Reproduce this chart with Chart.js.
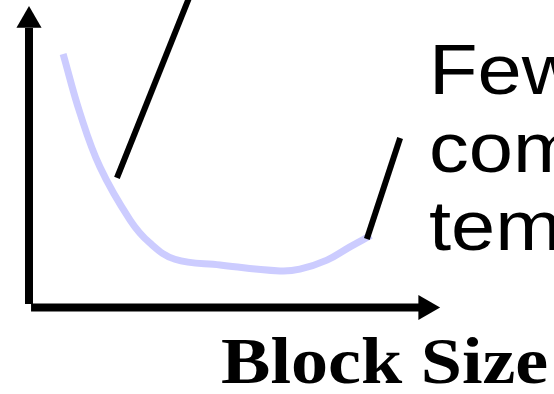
<!DOCTYPE html>
<html>
<head>
<meta charset="utf-8">
<script src="https://cdn.jsdelivr.net/npm/chart.js@4/dist/chart.umd.min.js"></script>
<style>
  html, body { margin: 0; padding: 0; background: #fff; }
  canvas { display: block; }
</style>
</head>
<body>
<canvas id="blockSizeChart" width="554" height="394"></canvas>
<script>
// values in sketch units: origin at the axes corner, arrows at 10
var curveX = [0.83, 1.24, 1.73, 2.46, 2.94, 3.55, 4.65, 6.11, 6.59, 7.25, 7.81, 8.32];
var curveY = [8.41, 6.45, 4.65, 2.90, 2.14, 1.60, 1.41, 1.21, 1.27, 1.57, 2.01, 2.39];

var leftLeaderX = [2.14, 3.97];
var leftLeaderY = [4.30, 10.53];
var rightLeaderX = [8.22, 9.03];
var rightLeaderY = [2.27, 5.62];

var yAxisX = [0, 0];
var yAxisY = [0.12, 9.27];
var xAxisX = [0.05, 9.5];
var xAxisY = [0, 0];
var yArrowTip = { x: 0, y: 9.52 };
var xArrowTip = { x: 9.65, y: 0 };

var calloutLines = ['Fewer blocks:', 'compromises', 'temporal locality'];
var xTitle = 'Block Size';

function pts(xs, ys) {
  return xs.map(function (x, i) { return { x: x, y: ys[i] }; });
}

function lineSet(xs, ys, color, width, tension) {
  return {
    type: 'line',
    data: pts(xs, ys),
    borderColor: color,
    borderWidth: width,
    borderCapStyle: 'butt',
    pointRadius: 0,
    tension: tension || 0,
    fill: false,
    clip: 20
  };
}

var chart_blockSize = new Chart(document.getElementById('blockSizeChart'), {
    type: 'scatter',
    data: {
        datasets: [
            lineSet(yAxisX, yAxisY, '#000', 8),
            lineSet(xAxisX, xAxisY, '#000', 8),
            {
                data: [yArrowTip],
                pointStyle: 'triangle',
                pointRadius: 14.5,
                rotation: 0,
                backgroundColor: '#000',
                borderWidth: 0,
                clip: 20
            },
            {
                data: [xArrowTip],
                pointStyle: 'triangle',
                pointRadius: 14.5,
                rotation: 90,
                backgroundColor: '#000',
                borderWidth: 0,
                clip: 20
            },
            lineSet(leftLeaderX, leftLeaderY, '#000', 6),
            lineSet(rightLeaderX, rightLeaderY, '#000', 6),
            lineSet(curveX, curveY, '#ccccff', 7, 0.4)
        ]
    },
    options: {
        animation: false,
        responsive: false,
        layout: { padding: 0, autoPadding: false },
        plugins: {
            legend: { display: false },
            tooltip: { enabled: false }
        },
        scales: {
            x: { type: 'linear', display: false, min: -0.7056, max: 12.774 },
            y: { type: 'linear', display: false, min: -2.869, max: 10.199 }
        }
    },
    plugins: [{
        id: 'sketchText',
        beforeDraw: (chart) => {
            const ctx = chart.ctx;
            ctx.save();
            ctx.fillStyle = 'white';
            ctx.fillRect(0, 0, chart.width, chart.height);
            ctx.restore();
        },
        afterDraw: (chart) => {
            const ctx = chart.ctx;
            ctx.save();
            ctx.fillStyle = '#000';
            ctx.textBaseline = 'alphabetic';
            ctx.textAlign = 'left';
            // the slide was stretched a little sideways
            ctx.font = '71px "Liberation Sans", Arial, sans-serif';
            calloutLines.forEach(function (t, i) {
                ctx.save();
                ctx.translate(429, 94 + i * 78);
                ctx.scale(1.12, 1);
                ctx.fillText(t, 0, 0);
                ctx.restore();
            });
            ctx.translate(221, 383);
            ctx.scale(1.14, 1);
            ctx.font = 'bold 65px "Liberation Serif", "Times New Roman", serif';
            ctx.fillText(xTitle, 0, 0);
            ctx.restore();
        }
    }]
});
</script>
</body>
</html>
